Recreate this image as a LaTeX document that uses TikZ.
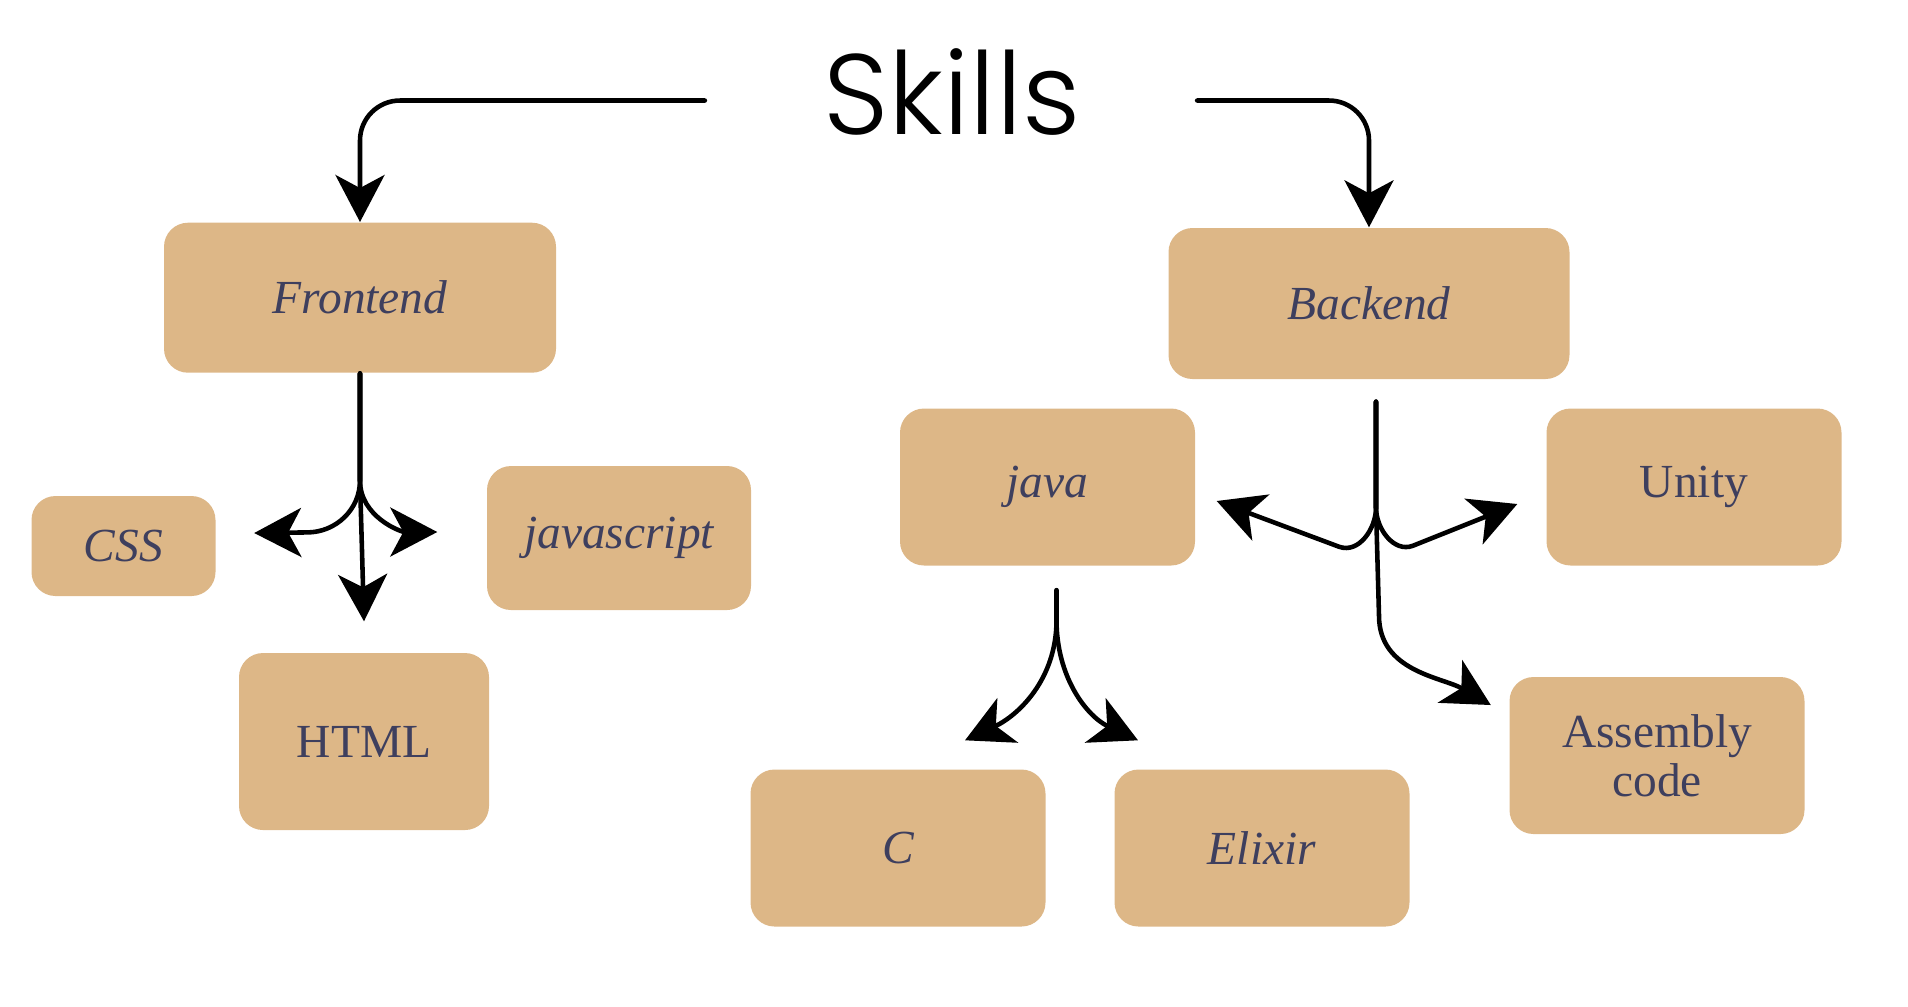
\documentclass[tikz,border=0pt]{standalone}
\usepackage{fontspec}
\setmainfont{Liberation Serif}
\newfontfamily\titlefont{Poppins Light}
\usepackage{tikz}
\usetikzlibrary{arrows.meta,positioning}
\definecolor{boxfill}{HTML}{DDB787}
\definecolor{boxtext}{HTML}{3E3F5E}
\tikzset{
    %Define standard arrow tip
    >={Stealth[length=4.7mm,width=4.9mm,inset=1.3mm]},
    %Define style for boxes
    skill/.style={
           rectangle,
           rounded corners=2.4mm,
           fill=boxfill,
           text=boxtext,
           font=\fontsize{13.5}{14}\selectfont,
           align=center,
           inner sep=2pt},
    skillit/.style={
           skill,
           font=\fontsize{13.5}{14}\selectfont\itshape},
    title/.style={
           font=\titlefont\fontsize{32.5}{36}\selectfont,
           inner sep=0pt},
    % Define arrow style
    arr/.style={
           ->,
           draw=black,
           line width=1.3pt,
           line cap=round}
}
\begin{document}
\begin{tikzpicture}
\useasboundingbox (0,0) rectangle (19.08,-10.06);
 %nodes
\node[title, anchor=base](0) at (9.52,-1.34){Skills};
\node[skillit, minimum width=3.92cm, minimum height=1.5cm](1) at (3.60,-2.977){Frontend};
\node[skillit, minimum width=4.01cm, minimum height=1.51cm](2) at (13.69,-3.035){Backend};
\node[skillit, minimum width=1.84cm, minimum height=1.0cm](3) at (1.235,-5.46){CSS};
\node[skillit, minimum width=2.64cm, minimum height=1.44cm](4) at (6.19,-5.38){javascript};
\node[skill, minimum width=2.5cm, minimum height=1.77cm](5) at (3.64,-7.415){HTML};
\node[skillit, minimum width=2.95cm, minimum height=1.57cm](6) at (10.475,-4.87){java};
\node[skill, minimum width=2.95cm, minimum height=1.57cm](7) at (16.94,-4.87){Unity};
\node[skill, minimum width=2.95cm, minimum height=1.57cm](8) at (16.57,-7.555){Assembly\\code};
\node[skillit, minimum width=2.95cm, minimum height=1.57cm](9) at (8.98,-8.48){C};
\node[skillit, minimum width=2.95cm, minimum height=1.57cm](10) at (12.62,-8.48){Elixir};
 %title to frontend / backend
\draw[arr, rounded corners=4mm] ([xshift=-11.8mm,yshift=-0.9mm]0.west) -| (1.north);
\draw[arr, rounded corners=4mm] ([xshift=11.6mm,yshift=-0.9mm]0.east) -| (2.north);
 %frontend
\draw[arr] (1.south) -- ++(0,-1.07) to[out=-90,in=0] ++(-0.53,-0.52)
    -- ([xshift=3.8mm,yshift=1.3mm]3.east);
\draw[arr] (1.south) -- ++(0,-1.07) to[out=-90,in=180] ([xshift=-4.9mm,yshift=0.6mm]4.west);
\draw[arr] (1.south) -- ++(0,-1.07) -- ([yshift=3.1mm]5.north);
 %backend
\draw[arr, shorten <=2.2mm] ([xshift=0.7mm]2.south) -- ++(0,-1.28) to[out=-90,in=-20] ++(-0.37,-0.39)
    -- ([xshift=2.1mm,yshift=-1.4mm]6.east);
\draw[arr, shorten <=2.2mm] ([xshift=0.7mm]2.south) -- ++(0,-1.28) to[out=-90,in=-159] ++(0.37,-0.38)
    -- ([xshift=-2.85mm,yshift=-1.7mm]7.west);
\draw[arr, shorten <=2.2mm] ([xshift=0.7mm]2.south) -- ++(0,-1.28) -- ++(0.03,-1.08)
    to[out=-90,in=150] ([xshift=-1.8mm,yshift=5.05mm]8.west);
 %java
\draw[arr, shorten <=2.4mm] ([xshift=0.9mm]6.south) -- ++(0,-0.54)
    to[out=-90,in=25] ([xshift=6.7mm,yshift=2.85mm]9.north);
\draw[arr, shorten <=2.4mm] ([xshift=0.9mm]6.south) -- ++(0,-0.54)
    to[out=-90,in=155] ([xshift=-12.4mm,yshift=2.85mm]10.north);
\end{tikzpicture}
\end{document}
